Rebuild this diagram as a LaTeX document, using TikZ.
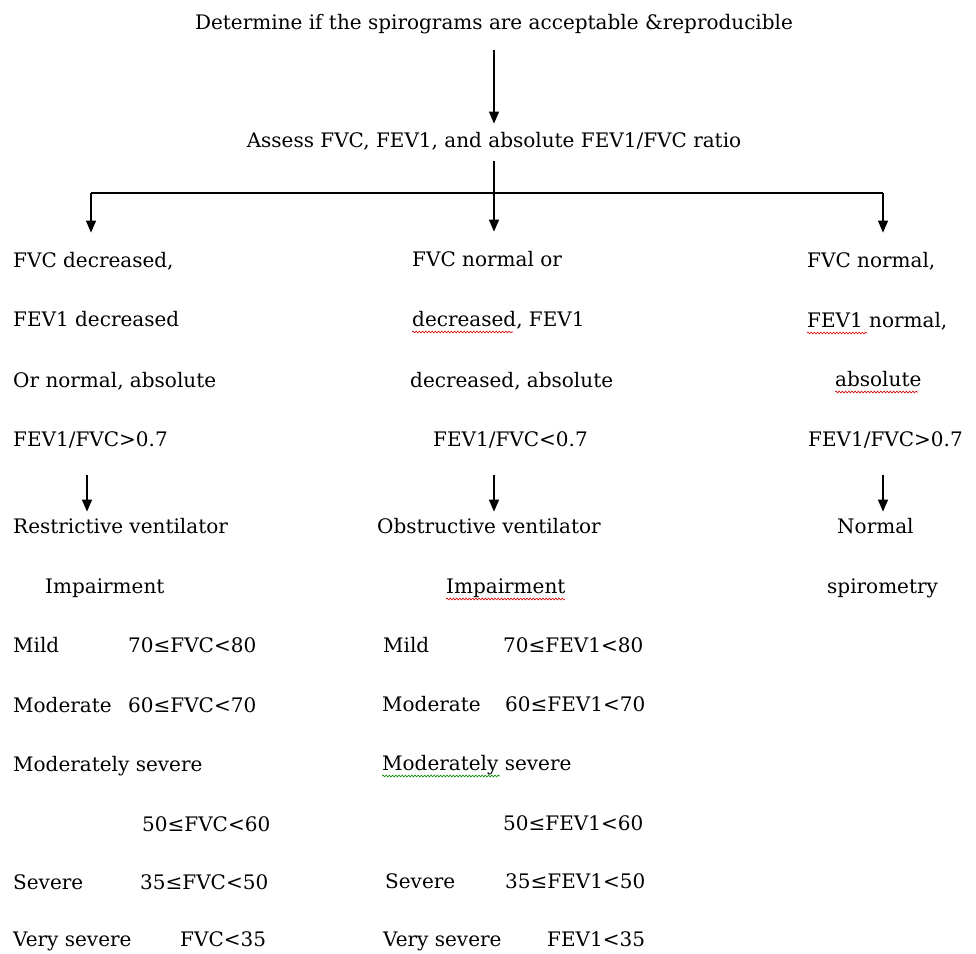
\documentclass[tikz,border=0pt]{standalone}
\usepackage{fontspec}
\setmainfont{DejaVu Serif}
\usetikzlibrary{arrows.meta,decorations.pathmorphing}

\tikzset{
  txt/.style={anchor=base west, inner sep=0pt, font=\fontsize{20}{24}\selectfont},
  arr/.style={-{Triangle[width=10pt,length=12pt]}, line width=1.3pt},
  spell/.style={decorate, decoration={snake, amplitude=0.9pt, segment length=3.2pt}, line width=0.6pt, red!85!black},
}

\begin{document}
\begin{tikzpicture}[x=1pt,y=-1pt]
    \useasboundingbox (0,0) rectangle (976,953);
    % top
    \node[txt,anchor=base] (determine) at (494,29) {Determine if the spirograms are acceptable \&reproducible};
    \node[txt,anchor=base] (assess) at (494,147) {Assess FVC, FEV1, and absolute FEV1/FVC ratio};
    \draw[arr] ([yshift=-16pt]determine.south) -- ([yshift=8pt]assess.north);
    % fork
    \coordinate (fork) at (494,193);
    \coordinate (forkL) at (91,193);
    \coordinate (forkR) at (883,193);
    \draw[line width=1.3pt] ([yshift=-11pt]assess.south) -- (fork);
    \draw[line width=1.6pt] (forkL) -- (forkR);
    % restrictive
    \node[txt] (rFVC) at (13,267) {FVC decreased,};
    \node[txt] (rFEV) at (13,326) {FEV1 decreased};
    \node[txt] (rAbs) at (13,387) {Or normal, absolute};
    \node[txt] (rRatio) at (13,446) {FEV1/FVC>0.7};
    \node[txt] (rRes) at (13,533) {Restrictive ventilator};
    \node[txt] (rImp) at (45,593) {Impairment};
    \node[txt] (rMild) at (13,652) {Mild};
    \node[txt] (rMildV) at (128,652) {70≤FVC<80};
    \node[txt] (rMod) at (13,712) {Moderate};
    \node[txt] (rModV) at (128,712) {60≤FVC<70};
    \node[txt] (rModSev) at (13,771) {Moderately severe};
    \node[txt] (rModSevV) at (142,831) {50≤FVC<60};
    \node[txt] (rSev) at (13,889) {Severe};
    \node[txt] (rSevV) at (140,889) {35≤FVC<50};
    \node[txt] (rVSev) at (13,946) {Very severe};
    \node[txt] (rVSevV) at (180,946) {FVC<35};
    % obstructive
    \node[txt] (oFVC) at (412,266) {FVC normal or};
    \node[txt] (oFEV) at (412,326) {decreased, FEV1};
    \node[txt] (oAbs) at (410,387) {decreased, absolute};
    \node[txt] (oRatio) at (433,446) {FEV1/FVC<0.7};
    \node[txt] (oObs) at (377,533) {Obstructive ventilator};
    \node[txt] (oImp) at (446,593) {Impairment};
    \node[txt] (oMild) at (383,652) {Mild};
    \node[txt] (oMildV) at (503,652) {70≤FEV1<80};
    \node[txt] (oMod) at (382,711) {Moderate};
    \node[txt] (oModV) at (505,711) {60≤FEV1<70};
    \node[txt] (oModSev) at (382,770) {Moderately severe};
    \node[txt] (oModSevV) at (503,830) {50≤FEV1<60};
    \node[txt] (oSev) at (385,888) {Severe};
    \node[txt] (oSevV) at (505,888) {35≤FEV1<50};
    \node[txt] (oVSev) at (383,946) {Very severe};
    \node[txt] (oVSevV) at (547,946) {FEV1<35};
    % normal
    \node[txt] (nFVC) at (807,267) {FVC normal,};
    \node[txt] (nFEV) at (807,327) {FEV1 normal,};
    \node[txt] (nAbs) at (835,386) {absolute};
    \node[txt] (nRatio) at (808,446) {FEV1/FVC>0.7};
    \node[txt] (nNorm) at (837,533) {Normal};
    \node[txt] (nSpiro) at (827,593) {spirometry};
    % arrows down
    \draw[arr] (forkL) -- ([yshift=19pt]forkL |- rFVC.north);
    \draw[arr] (fork) -- ([yshift=19pt]fork |- oFVC.north);
    \draw[arr] (forkR) -- ([yshift=19pt]forkR |- nFVC.north);
    \coordinate (rDown) at (87,475);
    \coordinate (oDown) at (494,475);
    \coordinate (nDown) at (883,475);
    \draw[arr] (rDown) -- ([yshift=6pt]rDown |- rRes.north);
    \draw[arr] (oDown) -- ([yshift=6pt]oDown |- oObs.north);
    \draw[arr] (nDown) -- ([yshift=6pt]nDown |- nNorm.north);
    % spelling marks
    \draw[spell] ([yshift=-6pt]oFEV.base west) -- ++(101,0);
    \draw[spell] ([yshift=-6pt]oImp.base west) -- ++(119,0);
    \draw[spell] ([yshift=-6pt]nFEV.base west) -- ++(60,0);
    \draw[spell] ([yshift=-6pt]nAbs.base west) -- ++(83,0);
    \draw[spell,green!55!black] ([yshift=-6pt]oModSev.base west) -- ++(118,0);
\end{tikzpicture}
\end{document}
